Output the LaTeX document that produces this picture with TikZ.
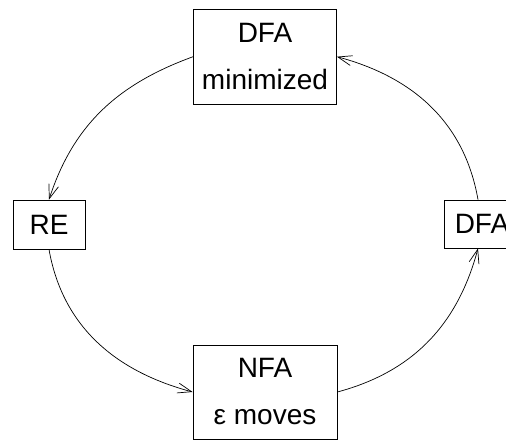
\documentclass[tikz,border=0pt]{standalone}
\usepackage{fontspec}
\setmainfont{Liberation Sans}
\usetikzlibrary{arrows.meta}

\begin{document}
\begin{tikzpicture}[x=1pt, y=1pt,
        >={Straight Barb[length=14pt, width=10pt]},
        box/.style={draw, line width=0.8pt, inner sep=0pt, align=center,
            font=\fontsize{28}{47}\selectfont},
        conn/.style={->, line width=0.7pt}]
        \useasboundingbox (0, 0) rectangle (506, 441);

        % Automaten
        \node[box, minimum width=143pt, minimum height=95pt] (DM) at (265, 384.3) {DFA\\minimized};
        \node[box, minimum width=72pt, minimum height=49pt] (RE) at (49, 216.5) {RE};
        \node[box, minimum width=76pt, minimum height=48pt] (DFA) at (482, 217) {DFA};
        \node[box, minimum width=144pt, minimum height=94pt] (NFA) at (265, 49) {NFA\\ε moves};

        % Umwandlungen
        \draw[conn] (DM.west) to[out=200, in=72] (RE.north);
        \draw[conn] (RE.south) to[out=-80, in=165] (NFA.west);
        \draw[conn] (NFA.east) to[out=15, in=-105] ([xshift=-4pt]DFA.south);
        \draw[conn] ([xshift=-4pt]DFA.north) to[out=100, in=-15] (DM.east);

    \end{tikzpicture}
\end{document}
